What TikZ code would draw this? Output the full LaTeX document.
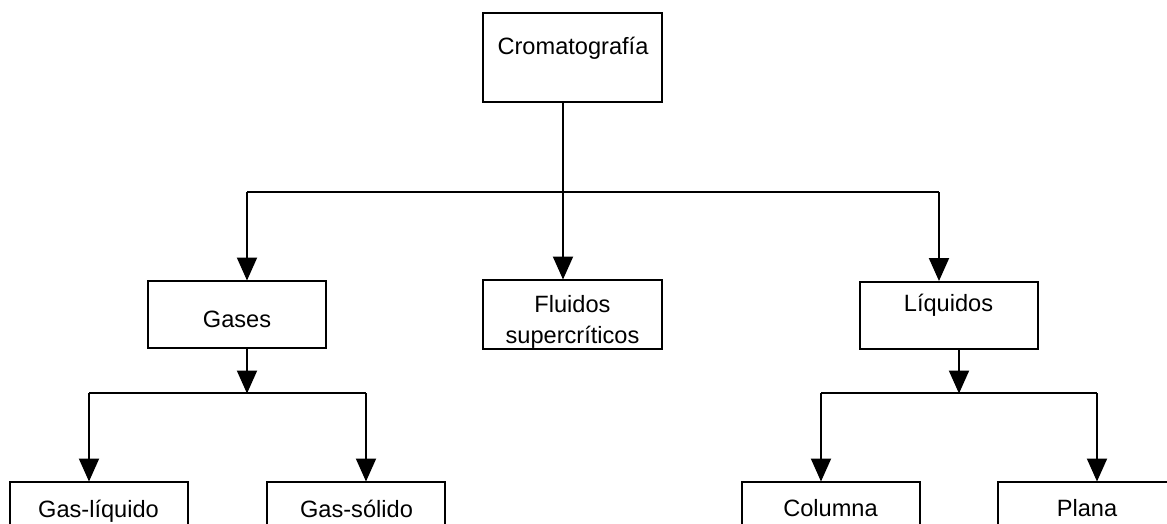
\documentclass[tikz,border=0pt]{standalone}
\usepackage{fontspec}
\setmainfont{Liberation Sans}
\usetikzlibrary{arrows.meta}
\tikzset{
  box/.style={draw=black, line width=2pt, rectangle, minimum width=178pt, minimum height=67pt, inner sep=0pt, fill=white},
  txt/.style={anchor=base, inner sep=0pt, font=\fontsize{23.6}{31}\selectfont, align=center},
  conn/.style={draw=black, line width=2pt},
  arr/.style={conn, -{Triangle[width=20pt,length=23pt]}, shorten >=-0.5pt},
}
\begin{document}
\begin{tikzpicture}[x=1pt,y=-1pt]
\useasboundingbox (0,0) rectangle (1167,523);
\fill[white] (0,0) rectangle (1167,523);
\clip (0,0) rectangle (1167,523);
% boxes
\node[box, minimum width=179pt, minimum height=89pt] (crom) at (572.5,57.5) {};
\node[box, minimum width=179pt, minimum height=69pt] (fluid) at (572.5,314.5) {};
\node[box] (gases) at (237,314.5) {};
\node[box] (liq) at (949,315) {};
\node[box] (gl) at (98.5,515.5) {};
\node[box] (gs) at (356,515.5) {};
\node[box] (col) at (830.5,515.5) {};
\node[box] (plana) at (1087,515.5) {};
% texts
\node[txt] (crom-t) at (573,54) {Cromatografía};
\node[txt] (fluid-t) at (572.5,343) {Fluidos\\supercríticos};
\node[txt] (gases-t) at (237,327) {Gases};
\node[txt] (liq-t) at (948.5,311) {Líquidos};
\node[txt] (gl-t) at (98.5,517) {Gas-líquido};
\node[txt] (gs-t) at (356.5,517) {Gas-sólido};
\node[txt] (col-t) at (830.5,516) {Columna};
\node[txt] (plana-t) at (1087,516) {Plana};
% junctions
\coordinate (jc) at (563,192);
\coordinate (jl) at (247,192);
\coordinate (jr) at (939,192);
\coordinate (gj) at (247,393);
\coordinate (gjl) at (89,393);
\coordinate (gjr) at (366,393);
\coordinate (lj) at (959,393);
\coordinate (ljl) at (821,393);
\coordinate (ljr) at (1097,393);
% connectors
\draw[conn] (jc |- crom.south) -- (jc);
\draw[arr] (jc) -- (jc |- fluid.north);
\draw[conn] (jl) -- (jr);
\draw[arr] (jl) -- (jl |- gases.north);
\draw[arr] (jr) -- (jr |- liq.north);
\draw[arr] (gj |- gases.south) -- (gj);
\draw[conn] (gjl) -- (gjr);
\draw[arr] (gjl) -- (gjl |- gl.north);
\draw[arr] (gjr) -- (gjr |- gs.north);
\draw[arr] (lj |- liq.south) -- (lj);
\draw[conn] (ljl) -- (ljr);
\draw[arr] (ljl) -- (ljl |- col.north);
\draw[arr] (ljr) -- (ljr |- plana.north);
\end{tikzpicture}
\end{document}
